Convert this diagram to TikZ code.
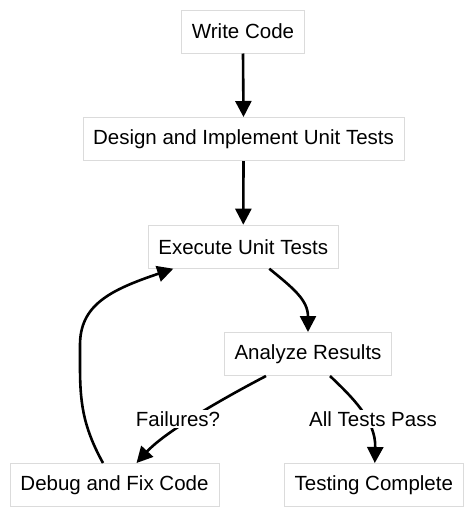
\documentclass[tikz,border=0pt]{standalone}
\usepackage{fontspec}
\setmainfont{Liberation Sans}
\usetikzlibrary{arrows.meta,calc}
\begin{document}
\begin{tikzpicture}[x=1pt,y=-1pt,
  box/.style={draw=black!14,line width=1pt,fill=white,minimum height=43pt,inner xsep=10pt,font=\fontsize{20.5}{24}\selectfont},
  lbl/.style={fill=white,inner sep=1pt,font=\fontsize{20.5}{24}\selectfont},
  conn/.style={line width=2.6pt,-{Triangle[length=16pt,width=16pt]}}]
\useasboundingbox (0,0) rectangle (474,517);
\node[box,minimum width=122pt] (wc) at (243,31.5) {Write Code};
\node[box,minimum width=321pt] (dt) at (243.5,139) {Design and Implement Unit Tests};
\node[box,minimum width=190pt] (ex) at (243.3,246.7) {Execute Unit Tests};
\node[box,minimum width=167pt] (an) at (308,354) {Analyze Results};
\node[box,minimum width=209pt] (db) at (114.5,485) {Debug and Fix Code};
\node[box,minimum width=179pt] (tc) at (373.8,485) {Testing Complete};
\draw[conn] (wc.south) -- (dt.north);
\draw[conn] (dt.south) -- (ex.north);
\draw[conn] ($(ex.south)+(26,0)$) .. controls (293,288) and (308,300) .. (an.north);
\draw[conn] ($(an.south)+(-42,0)$) .. controls (220,400) and (165,432) .. ($(db.north)+(22,0)$);
\draw[conn] ($(an.south)+(22,0)$) .. controls (352,397) and (376,420) .. ($(tc.north)+(1,0)$);
\draw[conn] ($(db.north)+(-11.5,0)$) .. controls (82,425) and (80,400) .. (80,365) -- (80,345) .. controls (80,305) and (110,290) .. ($(ex.south)+(-70,0)$);
\node[lbl] (fl) at (178,419) {Failures?};
\node[lbl] (ok) at (373,419) {All Tests Pass};
\end{tikzpicture}
\end{document}
